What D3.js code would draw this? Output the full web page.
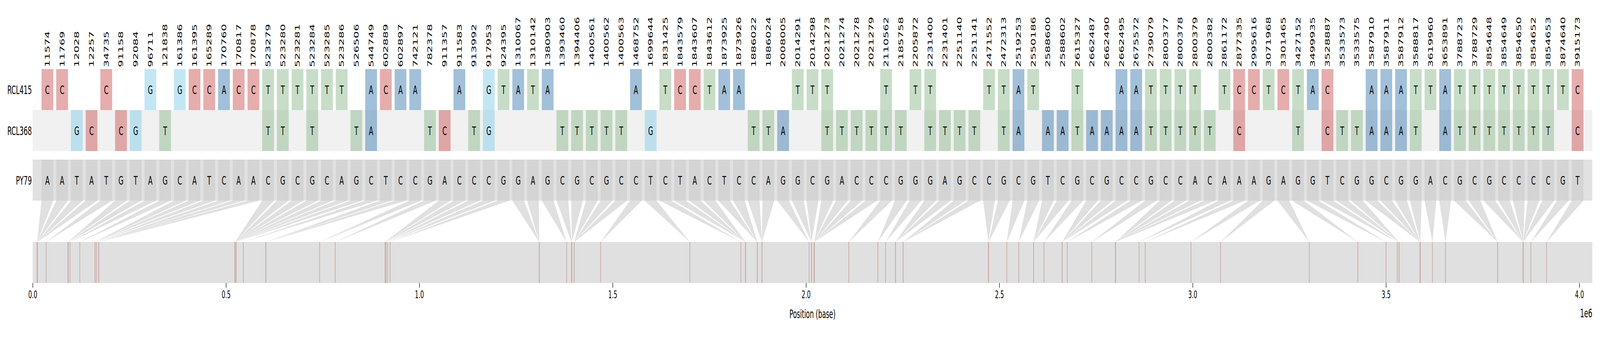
<!DOCTYPE html>
<html><head><meta charset="utf-8">
<script src="https://cdn.jsdelivr.net/npm/d3@7/dist/d3.min.js"></script>
<style>html,body{margin:0;padding:0;background:#fff;overflow:hidden;} svg{display:block;width:100vw;height:100vh;} text{font-family:"DejaVu Sans",sans-serif;}</style>
</head><body><svg id="c" viewBox="0 0 7685 866" preserveAspectRatio="none"></svg>
<script>
const positions = [11574,11769,12028,12257,34735,91158,92084,96711,121838,161386,161395,165289,170760,170817,170878,523279,523280,523281,523284,523285,523286,526506,544749,602889,602897,742121,782378,911357,911583,913992,917953,924395,1310067,1310142,1380903,1393460,1394406,1400561,1400562,1400563,1468752,1699644,1831425,1843579,1843607,1843612,1873925,1873926,1886022,1886024,2008005,2014291,2014298,2021273,2021274,2021278,2021279,2110562,2185758,2205872,2231400,2231401,2251140,2251141,2471552,2472313,2519253,2550186,2588600,2588602,2615327,2662487,2662490,2662495,2675572,2739079,2800377,2800378,2800379,2800382,2861172,2877335,2995616,3071968,3301465,3427152,3499935,3528887,3533573,3533575,3587910,3587911,3587912,3588817,3619960,3653891,3788723,3788729,3854648,3854649,3854650,3854652,3854653,3874640,3915173];
const rcl415 = ("CC..C..G.G"+"CCACCTTTTT"+"T.ACAA..A."+"GTATA....."+"A.TCCTAA.."+".TTT...T.T"+"T...TTAT.."+"T..AATTTT."+"TCCTCTAC.."+"AAATTATTTT"+"TTTTC").split("");
const rcl368 = ("..GC.CG.T."+".....TT.T."+".TA...TC.T"+"G....TTTTT"+".G......TT"+"A..TTTTTT."+"TTTT.TA.AA"+"TAAAATTTTT"+".C...T.CTT"+"AAAT.ATTTT"+"TTT.C").split("");
const py79 = ("AATATGTAGC"+"ATCAACGCGC"+"AGCTCCGACC"+"CGGAGCGCGC"+"CTCTACTCCA"+"GGCGACCCGG"+"GAGCCGCGTC"+"GCGCCGCCAC"+"AAAGAGGTCG"+"GCGGACGCGC"+"CCCGT").split("");
const genomeLength = 4033459;
const xTicks = [0,500000,1000000,1500000,2000000,2500000,3000000,3500000,4000000];
const strainNames = ["RCL415","RCL368","PY79"];

const baseColor = {A:"steelblue",C:"indianred",G:"skyblue",T:"darkseagreen"};
const L = 157, R = 7648;
const svg = d3.select("#c");
const xc = d3.scaleLinear().domain([0, positions.length + 1]).range([L, R]);
const xg = d3.scaleLinear().domain([0, genomeLength]).range([L, R]);
const bw = xc(0.8) - xc(0);

const rows = {r415:[177,282], r368:[282,387], py:[409,514], gen:[620,725]};

svg.append("rect").attr("x",0).attr("y",0).attr("width",7685).attr("height",866).attr("fill","#fff");
svg.append("rect").attr("x",L).attr("y",rows.r368[0]).attr("width",R-L).attr("height",rows.r368[1]-rows.r368[0]).attr("fill","#f1f1f1");
svg.append("rect").attr("x",L).attr("y",rows.py[0]).attr("width",R-L).attr("height",rows.py[1]-rows.py[0]).attr("fill","#e1e1e1");
svg.append("rect").attr("x",L).attr("y",rows.gen[0]).attr("width",R-L).attr("height",rows.gen[1]-rows.gen[0]).attr("fill","#e0e0e0");

const idx = d3.range(positions.length);

svg.append("g").selectAll("path").data(idx).join("path")
  .attr("d", i => `M${xc(i+1)-bw/2},${rows.py[1]}L${xc(i+1)+bw/2},${rows.py[1]}L${xg(positions[i])},${rows.gen[0]}Z`)
  .attr("fill","#e0e0e0");

svg.append("g").selectAll("rect").data(idx).join("rect")
  .attr("x", i => xc(i+1)-bw/2).attr("width", bw)
  .attr("y", rows.py[0]).attr("height", rows.py[1]-rows.py[0]).attr("fill","#d4d4d4");
svg.append("g").selectAll("text").data(idx).join("text")
  .attr("x", i => xc(i+1)).attr("y", (rows.py[0]+rows.py[1])/2).attr("dy","0.36em")
  .attr("text-anchor","middle").attr("font-size",31).text(i => py79[i]);

function drawRow(arr, yr){
  const d = idx.filter(i => arr[i] !== ".");
  svg.append("g").selectAll("rect").data(d).join("rect")
    .attr("x", i => xc(i+1)-bw/2).attr("width", bw)
    .attr("y", yr[0]).attr("height", yr[1]-yr[0])
    .attr("fill", i => baseColor[arr[i]]).attr("fill-opacity",0.5);
  svg.append("g").selectAll("text").data(d).join("text")
    .attr("x", i => xc(i+1)).attr("y", (yr[0]+yr[1])/2).attr("dy","0.36em")
    .attr("text-anchor","middle").attr("font-size",31).text(i => arr[i]);
}
drawRow(rcl415, rows.r415);
drawRow(rcl368, rows.r368);

svg.append("g").selectAll("rect").data(positions).join("rect")
  .attr("x", p => xg(p)-1.6).attr("width",3.2)
  .attr("y", rows.gen[0]).attr("height", rows.gen[1]-rows.gen[0]).attr("fill","#c9a9a2");

svg.append("g").selectAll("text").data(idx).join("text")
  .attr("transform", i => `translate(${xc(i+1)},172) rotate(-90)`)
  .attr("dy","0.36em").attr("text-anchor","start").attr("font-size",29)
  .text(i => positions[i]);

const labY = [(rows.r415[0]+rows.r415[1])/2,(rows.r368[0]+rows.r368[1])/2,(rows.py[0]+rows.py[1])/2];
svg.append("g").selectAll("text").data(strainNames).join("text")
  .attr("x", L-4).attr("y",(d,i)=>labY[i]).attr("dy","0.36em")
  .attr("text-anchor","end").attr("font-size",31).text(d=>d);

const ax = svg.append("g").attr("transform",`translate(0,${rows.gen[1]})`)
  .call(d3.axisBottom(xg).tickValues(xTicks).tickSize(12).tickPadding(8).tickFormat(d => (d/1e6).toFixed(1)));
ax.select(".domain").remove();
ax.selectAll("line").attr("stroke","#000").attr("stroke-width",2.2);
ax.selectAll("text").attr("font-size",27).attr("font-family","DejaVu Sans").attr("fill","#000");

svg.append("text").attr("x",(L+R)/2).attr("y",804).attr("dy","0.36em").attr("text-anchor","middle")
  .attr("font-size",30).text("Position (base)");
svg.append("text").attr("x",R).attr("y",802).attr("dy","0.36em").attr("text-anchor","end")
  .attr("font-size",31).text("1e6");
</script></body></html>
